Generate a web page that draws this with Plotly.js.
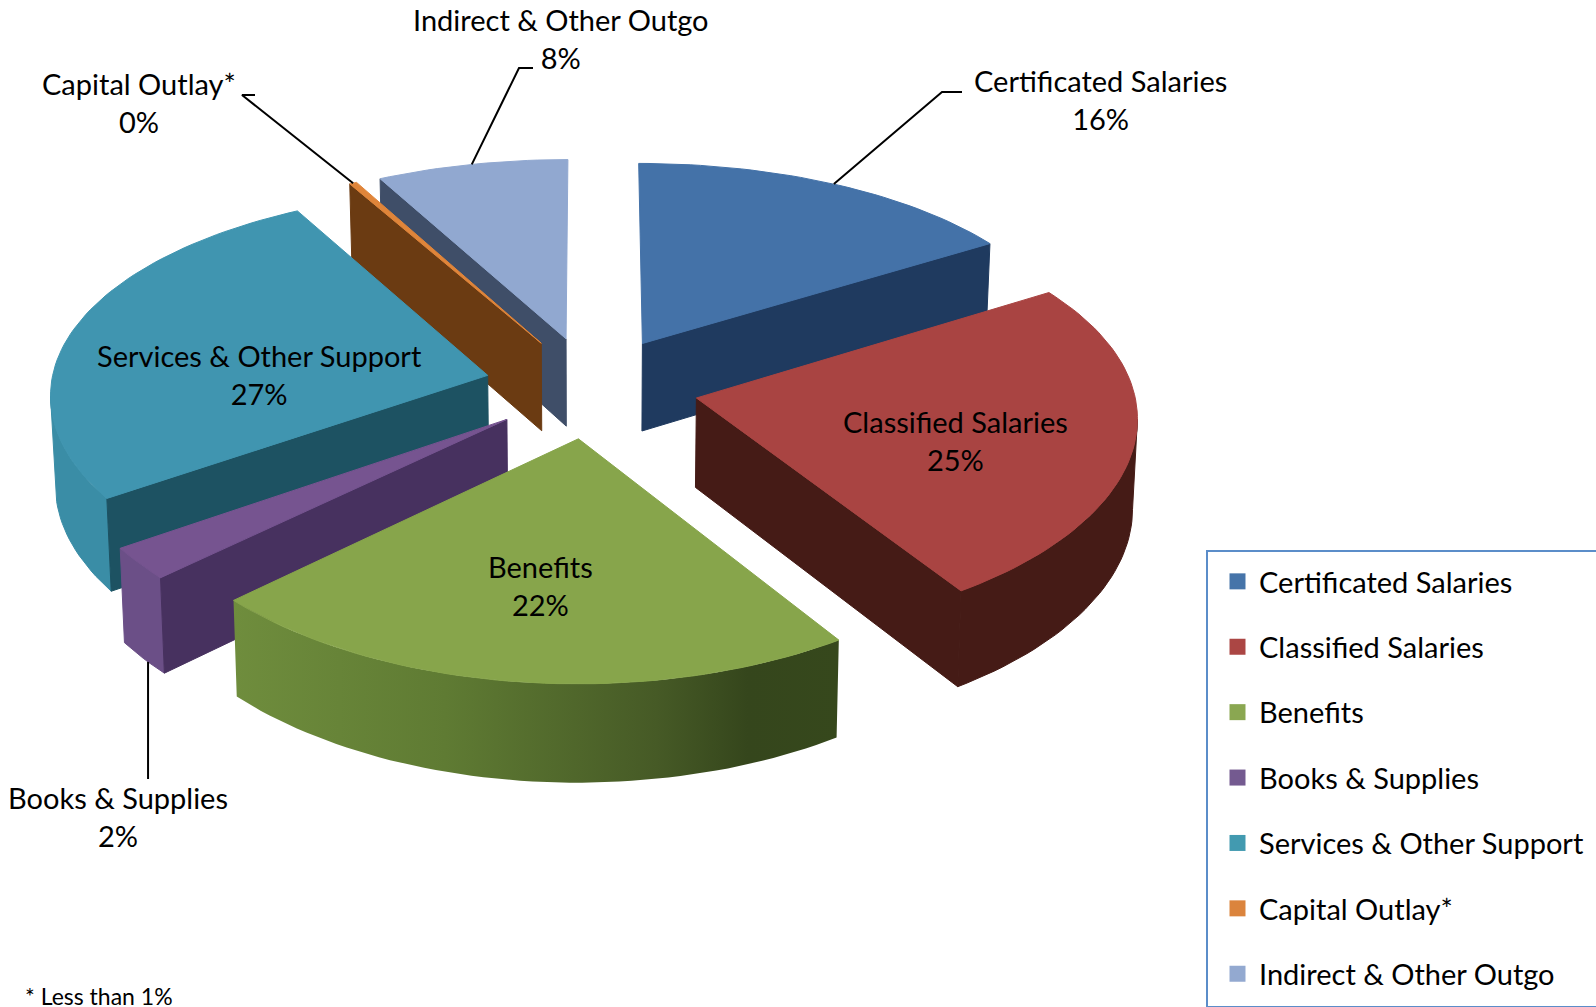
<!DOCTYPE html>
<html>
<head>
<meta charset="utf-8">
<script src="https://cdn.plot.ly/plotly-3.0.1.min.js"></script>
<style>
html,body{margin:0;padding:0;background:#fff;overflow:hidden}
svg text{font-variant-ligatures:none}
</style>
</head>
<body>
<div id="chart" style="width:1596px;height:1007px"></div>
<script>
// Budget shares, in percent, clockwise from twelve o'clock
const categories = ["Certificated Salaries", "Classified Salaries", "Benefits", "Books & Supplies",
                    "Services & Other Support", "Capital Outlay*", "Indirect & Other Outgo"];
const shares = [16.1, 24.7, 22.2, 2.45, 26.5, 0.3, 7.75];
const topColors = ["#4472A8", "#A94442", "#87A54B", "#765490", "#4095B0", "#E0853A", "#91A8D0"];
const cutColors = ["#1F3A5F", "#451B16", "#3F5320", "#47315F", "#1D5262", "#6B3B12", "#3F4E68"];
const rimColors = ["#2A4C78", "#451B16", "#5A7530", "#6B4F87", "#3A8DA6", "#B36A2C", "#5E7297"];
const swatchColors = ["#4674A9", "#AB4644", "#8AA751", "#745A90", "#429AB0", "#DB843D", "#93A9D0"];
// Label centres and leader anchors on the page
const labelX = [1100, 955, 540, 118, 259, 139, 561];
const labelY = [99.5, 440.5, 585.5, 816.5, 374.5, 102.5, 38.5];
const leaderStartX = [962, null, null, null, null, 255, 533];
const leaderStartY = [92, null, null, 779, null, 95, 68];
const leaderElbowX = [942, null, null, null, null, 242, 519];
const leaderElbowY = [92, null, null, 779, null, 95, 68];
const leaderRimFraction = [0.5, 0.5, 0.5, 0.38, 0.5, 0.5, 0.5];
// Back-to-front painting order of the slices
const paintOrder = [0, 6, 5, 4, 1, 3, 2];

// Projection of the tilted pie onto the page
const cx = 591.4, cy = 387, scaleX = 437, scaleY = 207.6;
const persX = 0.08, persY = 0.105, explode = 0.245;
const depthBase = 89, depthPers = 0.08, bottomShrink = 0.009;
const rad = d => d * Math.PI / 180;

function project(wx, wy, bottom) {
  let x = scaleX * wx / (1 + persX * wy);
  let y = scaleY * wy / (1 + persY * wy);
  if (bottom) {
    x *= 1 - bottomShrink;
    y -= depthBase / (1 + depthPers * wy);
  }
  return [cx + x, cy - y];
}

const total = shares.reduce((a, b) => a + b, 0);
let running = 0;
const slices = shares.map((v, i) => {
  const start = running;
  running += v / total * 360;
  const end = running, mid = (start + end) / 2;
  return {i, start, end, mid, ox: explode * Math.sin(rad(mid)), oy: explode * Math.cos(rad(mid))};
});

const rimPoint = (s, deg, bottom) => project(s.ox + Math.sin(rad(deg)), s.oy + Math.cos(rad(deg)), bottom);
const apexPoint = (s, bottom) => project(s.ox, s.oy, bottom);

// Angle at which the cylinder wall turns out of sight, on the given side of the pie
function silhouetteAngle(s, from, to, sign) {
  let best = from, bestX = -Infinity;
  for (let d = from; d <= to; d += 0.25) {
    const x = sign * rimPoint(s, d, false)[0];
    if (x > bestX) { bestX = x; best = d; }
  }
  return best;
}

function arc(s, from, to, bottom) {
  const n = Math.max(2, Math.ceil(Math.abs(to - from) / 1.5));
  const pts = [];
  for (let k = 0; k <= n; k++) pts.push(rimPoint(s, from + (k / n) * (to - from), bottom));
  return pts;
}

function polygon(pts, color, extra) {
  return Object.assign({
    x: pts.map(p => p[0]).concat(pts[0][0]),
    y: pts.map(p => p[1]).concat(pts[0][1]),
    mode: "lines", fill: "toself", fillcolor: color,
    line: {width: 1, color: color},
    showlegend: false, hoverinfo: "skip"
  }, extra || {});
}

const traces = [];
paintOrder.forEach(idx => {
  const s = slices[idx];
  // outer wall, only between the two silhouette angles
  const a = Math.max(s.start, silhouetteAngle(s, 50, 130, 1));
  const b = Math.min(s.end, silhouetteAngle(s, 230, 310, -1));
  if (b > a) {
    const rimPts = arc(s, a, b, false).concat(arc(s, b, a, true));
    let rimExtra = {};
    if (categories[idx] === "Benefits") {
      const xs = rimPts.map(p => p[0]);
      rimExtra = {line: {width: 0}, fillgradient: {type: "horizontal",
        start: Math.min.apply(null, xs), stop: Math.max.apply(null, xs),
        colorscale: [[0, "#6F8D3D"], [0.35, "#5F7B33"], [0.7, "#465A26"], [0.85, "#35461C"], [1, "#36481C"]]}};
    }
    traces.push(polygon(rimPts, rimColors[idx], rimExtra));
  }
  // cut faces that turn toward the viewer
  if (Math.sin(rad(s.start)) < -1e-6) {
    traces.push(polygon([apexPoint(s, false), rimPoint(s, s.start, false), rimPoint(s, s.start, true), apexPoint(s, true)], cutColors[idx]));
  }
  if (Math.sin(rad(s.end)) > 1e-6) {
    traces.push(polygon([apexPoint(s, false), rimPoint(s, s.end, false), rimPoint(s, s.end, true), apexPoint(s, true)], cutColors[idx]));
  }
  // top face
  traces.push(polygon([apexPoint(s, false)].concat(arc(s, s.start, s.end, false)), topColors[idx]));
});

// Leader lines from the outside labels to each slice's rim
slices.forEach(s => {
  const i = s.i;
  if (leaderStartY[i] === null) return;
  const bottom = categories[i] === "Books & Supplies";
  const end = rimPoint(s, s.start + leaderRimFraction[i] * (s.end - s.start), bottom);
  const sx = leaderStartX[i] === null ? end[0] : leaderStartX[i];
  const ex = leaderElbowX[i] === null ? end[0] : leaderElbowX[i];
  traces.push({
    x: [sx, ex, end[0]],
    y: [leaderStartY[i], leaderElbowY[i], end[1]],
    mode: "lines", line: {color: "#000", width: 2},
    showlegend: false, hoverinfo: "skip"
  });
});

// Legend entries
categories.forEach((name, i) => {
  traces.push({
    x: [null], y: [null], name: name, mode: "markers", legendgroup: "g" + i,
    marker: {symbol: "square", size: 16, color: swatchColors[i]},
    hoverinfo: "skip"
  });
});

const font = "Lato, Carlito, sans-serif";
const annotations = categories.map((name, i) => ({
  x: labelX[i], y: labelY[i], xref: "x", yref: "y", showarrow: false,
  text: name + "<br>" + Math.round(shares[i]) + "%",
  font: {family: font, size: 29, color: "#000"}, align: "center"
}));
annotations.push({
  x: 23, y: 996, xref: "x", yref: "y", xanchor: "left", showarrow: false,
  text: "* Less than 1%", font: {family: font, size: 23, color: "#000"}
});

const layout = {
  width: 1596, height: 1007, margin: {l: 0, r: 0, t: 0, b: 0},
  paper_bgcolor: "#fff", plot_bgcolor: "#fff",
  xaxis: {range: [0, 1596], visible: false, fixedrange: true},
  yaxis: {range: [1007, 0], visible: false, fixedrange: true},
  shapes: [{type: "rect", xref: "x", yref: "y", x0: 1207, y0: 551, x1: 1620, y1: 1007,
            line: {color: "#5B8DC9", width: 2}, fillcolor: "rgba(0,0,0,0)", layer: "below"}],
  annotations: annotations,
  showlegend: true,
  legend: {
    x: 1216 / 1596, xanchor: "left", y: 1 - 556 / 1007, yanchor: "top",
    traceorder: "grouped", tracegroupgap: 24.7, itemsizing: "trace", itemwidth: 33,
    font: {family: font, size: 29, color: "#000"},
    bgcolor: "rgba(0,0,0,0)", borderwidth: 0
  }
};

Plotly.newPlot("chart", traces, layout, {staticPlot: true, displayModeBar: false});
</script>
</body>
</html>
